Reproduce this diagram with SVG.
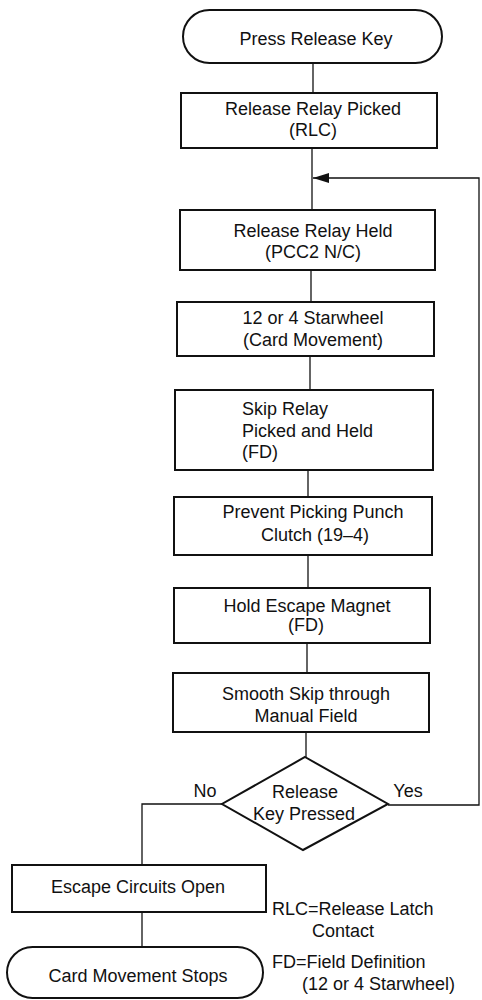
<svg xmlns="http://www.w3.org/2000/svg" width="482" height="1000" viewBox="0 0 482 1000">
<style>
.shape{fill:#fff;stroke:#111;stroke-width:2}
.conn{fill:none;stroke:#111;stroke-width:1.3}
text{font-family:"Liberation Sans",Arial,sans-serif;font-size:18px;fill:#111}
.c{text-anchor:middle}
</style>
<defs>
<marker id="arr" viewBox="0 0 16 10" refX="16" refY="5" markerWidth="16" markerHeight="10" markerUnits="userSpaceOnUse" orient="auto">
<path d="M0,0 L16,5 L0,10 z" fill="#111"/>
</marker>
</defs>
<rect width="482" height="1000" fill="#fff"/>
<g id="connectors">
<line class="conn" x1="313" y1="63" x2="313" y2="93"/>
<line class="conn" x1="312" y1="148" x2="312" y2="210"/>
<polyline class="conn" points="388,805 479,805 479,178 313,178" marker-end="url(#arr)"/>
<line class="conn" x1="311" y1="270" x2="311" y2="302"/>
<line class="conn" x1="310" y1="356" x2="310" y2="390"/>
<line class="conn" x1="308" y1="470" x2="308" y2="497"/>
<line class="conn" x1="308" y1="555" x2="308" y2="588"/>
<line class="conn" x1="307" y1="643" x2="307" y2="673"/>
<line class="conn" x1="306" y1="732" x2="306" y2="757"/>
<polyline class="conn" points="222,804 142,804 142,865"/>
<line class="conn" x1="142" y1="912" x2="142" y2="947"/>
<text class="c" x="205" y="797">No</text>
<text class="c" x="408" y="797">Yes</text>
</g>
<g id="start">
<rect class="shape" x="183" y="10" width="259" height="53" rx="26.5"/>
<text class="c" x="316" y="45">Press Release Key</text>
</g>
<g id="b1">
<rect class="shape" x="181" y="93" width="256" height="55"/>
<text class="c" x="313" y="115">Release Relay Picked</text>
<text class="c" x="313" y="136">(RLC)</text>
</g>
<g id="b2">
<rect class="shape" x="180" y="210" width="255" height="60"/>
<text class="c" x="313" y="237">Release Relay Held</text>
<text class="c" x="313" y="258">(PCC2 N/C)</text>
</g>
<g id="b3">
<rect class="shape" x="177" y="302" width="257" height="54"/>
<text class="c" x="313" y="324">12 or 4 Starwheel</text>
<text class="c" x="313" y="346">(Card Movement)</text>
</g>
<g id="b4">
<rect class="shape" x="175" y="390" width="258" height="80"/>
<text x="242" y="415">Skip Relay</text>
<text x="242" y="437">Picked and Held</text>
<text x="242" y="458">(FD)</text>
</g>
<g id="b5">
<rect class="shape" x="174" y="497" width="258" height="58"/>
<text class="c" x="313" y="518">Prevent Picking Punch</text>
<text class="c" x="315" y="541">Clutch (19–4)</text>
</g>
<g id="b6">
<rect class="shape" x="174" y="588" width="256" height="55"/>
<text class="c" x="307" y="612">Hold Escape Magnet</text>
<text class="c" x="306" y="631">(FD)</text>
</g>
<g id="b7">
<rect class="shape" x="173" y="673" width="256" height="59"/>
<text class="c" x="306" y="700">Smooth Skip through</text>
<text class="c" x="306" y="722">Manual Field</text>
</g>
<g id="decision">
<polygon class="shape" points="305,757 388,804 303,850 222,804"/>
<text class="c" x="305" y="798">Release</text>
<text class="c" x="304" y="820">Key Pressed</text>
</g>
<g id="escape">
<rect class="shape" x="12" y="865" width="254" height="47"/>
<text class="c" x="138" y="893">Escape Circuits Open</text>
</g>
<g id="end">
<rect class="shape" x="7" y="947" width="256" height="51" rx="25.5"/>
<text class="c" x="138" y="982">Card Movement Stops</text>
</g>
<g id="legend">
<text x="272" y="915">RLC=Release Latch</text>
<text x="312" y="937">Contact</text>
<text x="272" y="968">FD=Field Definition</text>
<text x="302" y="990">(12 or 4 Starwheel)</text>
</g>
</svg>
